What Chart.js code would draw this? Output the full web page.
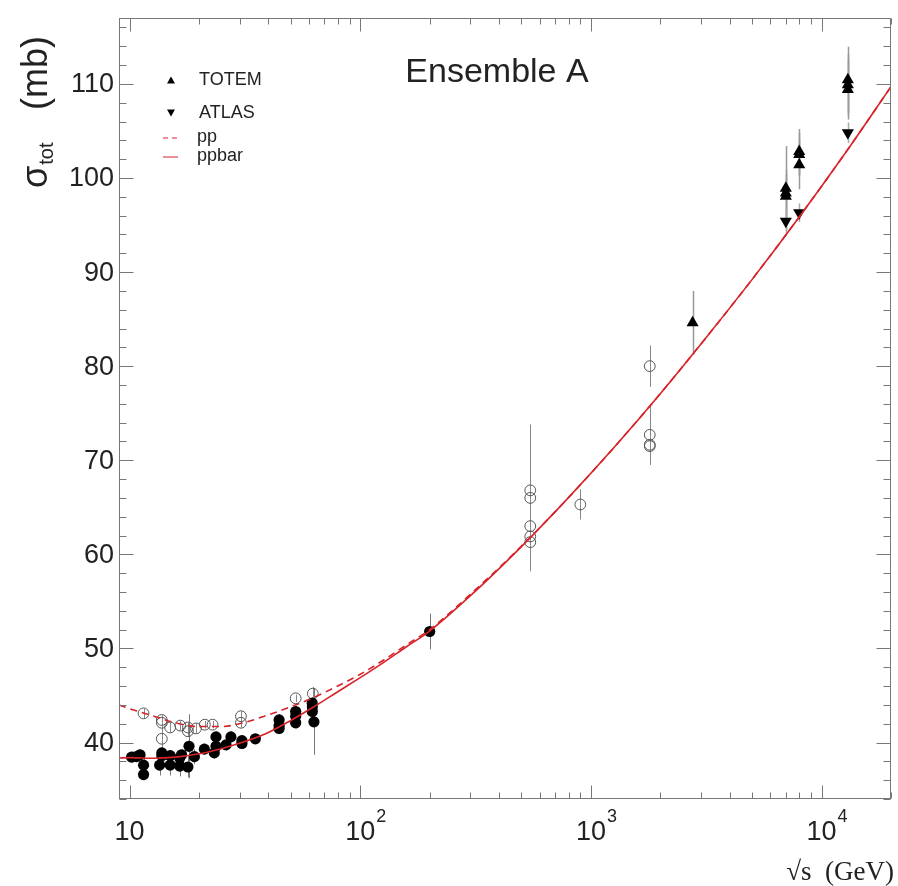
<!DOCTYPE html>
<html>
<head>
<meta charset="utf-8">
<script src="https://cdn.jsdelivr.net/npm/chart.js@4.4.1/dist/chart.umd.min.js"></script>
<style>
  html, body { margin: 0; background: #fff; }
  canvas { display: block; }
</style>
</head>
<body>
<canvas id="chart" width="898" height="886"></canvas>
<script>
// --- data ---
// fitted curves, sqrt(s) in GeV
const curveE = [9, 10, 12.6, 15.8, 20, 25, 31.6, 40, 50, 63, 79, 100, 126, 158, 200, 316, 501, 794, 1259, 1995, 3162, 5012, 7943, 12589, 20000];
const ppbarCurve = [38.35, 38.4, 38.33, 38.45, 38.8, 39.35, 40.1, 41.07, 42.35, 43.8, 45.32, 46.9, 48.5, 50.15, 51.85, 56.1, 60.85, 65.95, 71.35, 77.05, 83.05, 89.25, 95.75, 102.55, 109.7];
const ppCurve = [44.0, 43.6, 42.85, 42.1, 41.7, 41.7, 42.15, 42.95, 43.8, 44.8, 45.95, 47.25, 48.75, 50.35, 52.0, 56.25, 60.9, 65.95, 71.35, 77.05, 83.05, 89.25, 95.75, 102.55, 109.7];

// filled circles
const fullE = [10.2, 10.7, 11.1, 11.5, 11.5, 13.5, 13.8, 13.8, 15.0, 15.0, 16.5, 16.5, 16.8, 17.9, 18.1, 19.1, 21.1, 23.3, 23.7, 23.7, 26.2, 27.5, 30.7, 30.7, 35.1, 44.5, 44.5, 44.5, 52.5, 52.5, 52.5, 61.9, 62, 62, 63, 200];
const fullSigma = [38.45, 38.5, 38.7, 37.6, 36.6, 37.6, 38.9, 38.6, 38.6, 37.6, 38.35, 37.5, 38.7, 37.4, 39.6, 38.5, 39.3, 38.9, 40.6, 39.6, 39.75, 40.6, 39.9, 40.2, 40.4, 42.4, 41.8, 41.5, 42.8, 42.1, 43.3, 44.2, 43.3, 43.8, 42.2, 51.8];
const fullErr = [0.6, 0.6, 0.6, 1.1, 0.6, 1.1, 0.6, 0.6, 0.6, 1.1, 0.6, 1.1, 0.6, 1.1, 3.4, 0.8, 0.6, 0.6, 0.6, 0.6, 0.6, 0.6, 0.6, 0.6, 0.5, 0.6, 0.6, 0.6, 0.6, 0.6, 0.6, 0.6, 0.6, 0.6, 3.5, 1.9];

// open circles
const openE = [11.5, 13.8, 13.8, 13.8, 15.0, 16.6, 17.9, 17.9, 19.4, 21.2, 22.9, 30.4, 30.4, 52.5, 62.3, 546, 546, 546, 546, 546, 900, 1800, 1800, 1800, 1800];
const openSigma = [43.1, 42.4, 42.1, 40.4, 41.6, 41.8, 41.6, 41.2, 41.5, 41.9, 41.9, 42.8, 42.1, 44.7, 45.2, 66.8, 66.0, 63.0, 61.9, 61.3, 65.3, 80.0, 72.7, 71.65, 71.5];
const openErr = [0.5, 0.5, 0.5, 1.3, 0.5, 0.5, 0.5, 0.6, 0.5, 0.4, 0.4, 0.5, 0.5, 0.4, 0.7, 1.0, 7.8, 1.5, 1.5, 0.9, 1.6, 2.2, 3.1, 2.0, 2.0];

// TOTEM (up triangles) and ATLAS (down triangles)
const totemE = [2760, 7000, 7000, 7000, 8000, 8000, 8000, 13000, 13000, 13000];
const totemSigma = [84.6, 98.9, 98.4, 98.05, 102.8, 102.5, 101.4, 110.45, 109.9, 109.4];
const totemErr = [3.4, 4.5, 2.5, 2.3, 2.4, 2.3, 2.6, 3.5, 3.3, 3.2];
const atlasE = [7000, 8000, 13000];
const atlasSigma = [95.4, 96.3, 104.8];
const atlasErr = [1.4, 1.0, 1.1];

// axis ticks and labels
const yTicks = [40, 50, 60, 70, 80, 90, 100, 110];
const xTicks = [10, 100, 1000, 10000];
const xTickExp = ['', '2', '3', '4'];

const RED = '#d8232a';
const FONT = '"Liberation Sans", Arial, sans-serif';
const INK = '#222';

function pts(xs, ys) {
  return xs.map((x, i) => ({ x: x, y: ys[i] }));
}

// error bars, frame, ticks, titles and legend
const decor = {
  id: 'decor',
  beforeDatasetsDraw(chart) {
    const ctx = chart.ctx, xs = chart.scales.x, ys = chart.scales.y, a = chart.chartArea;
    ctx.save();
    ctx.beginPath();
    ctx.rect(a.left, a.top, a.right - a.left, a.bottom - a.top);
    ctx.clip();
    chart.data.datasets.forEach(ds => {
      if (!ds.err) return;
      ctx.strokeStyle = ds.errColor;
      ctx.lineWidth = ds.errWidth;
      ds.data.forEach((p, i) => {
        const px = Math.round(xs.getPixelForValue(p.x)) + 0.5;
        ctx.beginPath();
        ctx.moveTo(px, ys.getPixelForValue(p.y + ds.err[i]));
        ctx.lineTo(px, ys.getPixelForValue(p.y - ds.err[i]));
        ctx.stroke();
      });
    });
    ctx.restore();
  },
  afterDraw(chart) {
    const ctx = chart.ctx, xs = chart.scales.x, ys = chart.scales.y, a = chart.chartArea;
    const L = Math.round(a.left) + 0.5, R = Math.round(a.right) - 0.5;
    const T = Math.round(a.top) + 0.5, B = Math.round(a.bottom) - 0.5;
    ctx.save();
    ctx.strokeStyle = '#777';
    ctx.lineWidth = 1;
    ctx.strokeRect(L, T, R - L, B - T);

    // y ticks, both sides
    ctx.beginPath();
    for (let v = 34; v <= 117; v += 2) {
      const py = Math.round(ys.getPixelForValue(v)) + 0.5;
      const len = v % 10 === 0 ? 14 : 7;
      ctx.moveTo(L, py); ctx.lineTo(L + len, py);
      ctx.moveTo(R, py); ctx.lineTo(R - len, py);
    }
    // x ticks, bottom and top
    for (let d = 1; d <= 10000; d *= 10) {
      for (let m = 1; m <= 9; m++) {
        const v = m * d;
        if (v < xs.min || v > xs.max) continue;
        const px = Math.round(xs.getPixelForValue(v)) + 0.5;
        const len = m === 1 ? 13 : 6;
        ctx.moveTo(px, B); ctx.lineTo(px, B - len);
        ctx.moveTo(px, T); ctx.lineTo(px, T + len);
      }
    }
    ctx.stroke();

    ctx.fillStyle = INK;
    // y labels
    ctx.font = '27px ' + FONT;
    ctx.textAlign = 'right';
    ctx.textBaseline = 'middle';
    yTicks.forEach(v => ctx.fillText(String(v), a.left - 5, ys.getPixelForValue(v) + 1));

    // x labels
    ctx.textBaseline = 'alphabetic';
    xTicks.forEach((v, i) => {
      const px = xs.getPixelForValue(v);
      ctx.font = '27px ' + FONT;
      ctx.textAlign = 'center';
      ctx.fillText('10', px, 840);
      if (xTickExp[i]) {
        const w = ctx.measureText('10').width;
        ctx.font = '18px ' + FONT;
        ctx.textAlign = 'left';
        ctx.fillText(xTickExp[i], px + w / 2 + 1, 822);
      }
    });

    // x title
    ctx.font = '27px "Liberation Serif", "Times New Roman", serif';
    ctx.textAlign = 'right';
    ctx.fillText('\u221As  (GeV)', 894, 880);

    // y title, rotated
    ctx.save();
    ctx.translate(47, 188);
    ctx.rotate(-Math.PI / 2);
    ctx.textAlign = 'left';
    ctx.font = '36px ' + FONT;
    ctx.fillText('\u03C3', 0, 0);
    const sw = ctx.measureText('\u03C3').width;
    ctx.font = '20px ' + FONT;
    ctx.fillText('tot', sw + 1, 6);
    ctx.font = '36px ' + FONT;
    ctx.fillText('(mb)', 78, 0);
    ctx.restore();

    // plot title
    ctx.font = '34px ' + FONT;
    ctx.textAlign = 'center';
    ctx.fillText('Ensemble A', 497, 82);

    // legend
    ctx.font = '18px ' + FONT;
    ctx.textAlign = 'left';
    ctx.fillText('TOTEM', 199, 85);
    ctx.fillText('ATLAS', 199, 118);
    ctx.fillText('pp', 197, 142);
    ctx.fillText('ppbar', 197, 161);
    const tri = (x, y, r, up) => {
      const h = r * 1.7;
      ctx.beginPath();
      if (up) { ctx.moveTo(x, y - h / 2); ctx.lineTo(x + r, y + h / 2); ctx.lineTo(x - r, y + h / 2); }
      else { ctx.moveTo(x, y + h / 2); ctx.lineTo(x + r, y - h / 2); ctx.lineTo(x - r, y - h / 2); }
      ctx.closePath();
      ctx.fill();
    };
    ctx.fillStyle = '#000';
    tri(171, 80, 4, true);
    tri(171, 113, 4, false);
    ctx.strokeStyle = RED;
    ctx.lineWidth = 1.2;
    ctx.beginPath();
    ctx.moveTo(163, 138); ctx.lineTo(168, 138);
    ctx.moveTo(172, 138); ctx.lineTo(177, 138);
    ctx.moveTo(163, 157); ctx.lineTo(178, 157);
    ctx.stroke();
    ctx.restore();
  }
};

const lineDs = (label, ys, dash) => ({
  type: 'line',
  label: label,
  data: pts(curveE, ys),
  borderColor: RED,
  borderWidth: 1.6,
  borderDash: dash,
  pointRadius: 0,
  fill: false,
  cubicInterpolationMode: 'monotone'
});

new Chart(document.getElementById('chart'), {
  type: 'scatter',
  data: {
    datasets: [
      lineDs('ppbar', ppbarCurve, []),
      lineDs('pp', ppCurve, [7, 5]),
      {
        label: 'TOTEM', data: pts(totemE, totemSigma), err: totemErr, errColor: '#999', errWidth: 1.5,
        pointStyle: 'triangle', radius: 7, backgroundColor: '#000', borderColor: '#000', borderWidth: 0
      },
      {
        label: 'ATLAS', data: pts(atlasE, atlasSigma), err: atlasErr, errColor: '#aaa', errWidth: 1.5,
        pointStyle: 'triangle', rotation: 180, radius: 7, backgroundColor: '#000', borderColor: '#000', borderWidth: 0
      },
      {
        label: 'filled', data: pts(fullE, fullSigma), err: fullErr, errColor: '#777', errWidth: 1,
        pointStyle: 'circle', radius: 5.6, backgroundColor: '#000', borderColor: '#000', borderWidth: 0
      },
      {
        label: 'open', data: pts(openE, openSigma), err: openErr, errColor: '#888', errWidth: 1,
        pointStyle: 'circle', radius: 5.4, backgroundColor: 'rgba(255,255,255,0)', borderColor: '#555', borderWidth: 1
      }
    ]
  },
  options: {
    responsive: false,
    animation: false,
    layout: { padding: { left: 119, right: 2, top: 18, bottom: 87 } },
    plugins: { legend: { display: false }, tooltip: { enabled: false } },
    scales: {
      x: { type: 'logarithmic', min: 9, max: 20000, display: false },
      y: { type: 'linear', min: 34, max: 117, display: false }
    }
  },
  plugins: [decor]
});
</script>
</body>
</html>
